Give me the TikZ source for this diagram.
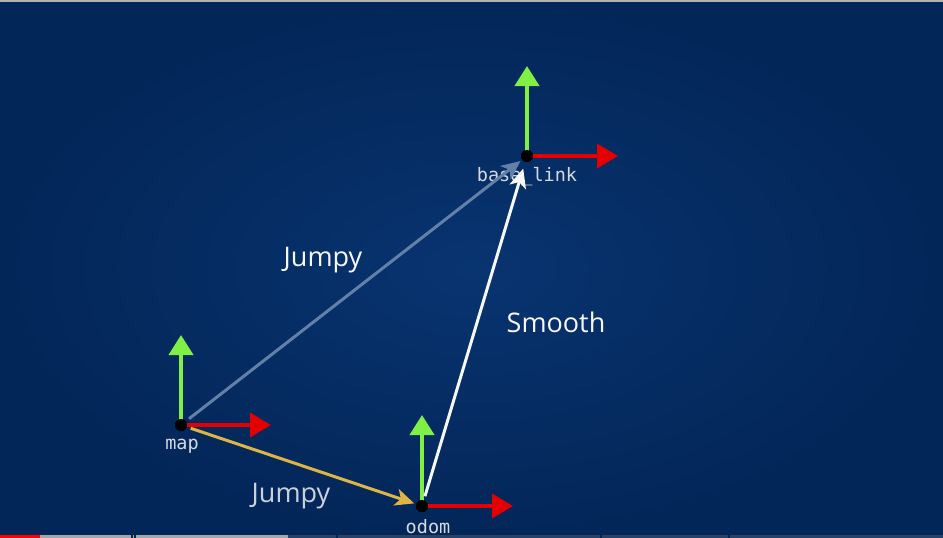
\documentclass[tikz,border=0pt]{standalone}
\usepackage{fontspec}
\setmainfont{Open Sans}
\setmonofont{DejaVu Sans Mono}
\usetikzlibrary{positioning,arrows.meta}

\definecolor{bginner}{RGB}{8,52,112}
\definecolor{bgouter}{RGB}{3,38,88}
\definecolor{axisgreen}{RGB}{128,240,70}
\definecolor{axisred}{RGB}{228,0,0}
\definecolor{jumpyblue}{RGB}{98,128,168}
\definecolor{jumpyyellow}{RGB}{222,180,70}
\definecolor{labelgray}{RGB}{214,218,224}

\begin{document}
\begin{tikzpicture}[
  x=1pt, y=-1pt,
  every node/.style={font=\fontsize{27}{30}\selectfont},
  origin/.style={circle,fill=black,minimum size=12pt,inner sep=0pt},
  framelabel/.style={font=\ttfamily\fontsize{18.5}{20}\selectfont,text=labelgray},
  xaxis/.style={axisred,line width=4pt,-{Triangle[length=21pt,width=24pt]}},
  yaxis/.style={axisgreen,line width=4pt,-{Triangle[length=20pt,width=24pt]}},
  tf/.style={line width=3pt,-{Stealth[length=19pt,width=17pt,inset=5pt]},
             shorten <=4pt,shorten >=2pt}
]
% background
\useasboundingbox (0,0) rectangle (943,538);
\shade[inner color=bginner,outer color=bgouter] (0,0) rectangle (943,538);
\fill[gray!60] (0,0) rectangle (943,1.5);
\fill[bgouter!70!gray] (0,535) rectangle (943,538);
\fill[gray!70] (40,535) rectangle (288,538);
\fill[red] (0,535) rectangle (40,538);
\foreach \sx in {131,134,336,600,728} {
  \fill[bgouter] (\sx,535) rectangle (\sx+2,538);
}

% frames
\coordinate (mapx) at (271,425);
\coordinate (mapy) at (181,335);
\coordinate (odomx) at (513,506);
\coordinate (odomy) at (422,415);
\coordinate (basex) at (618,156);
\coordinate (basey) at (527,66);

\node[origin] (map) at (181,425) {};
\node[origin] (odom) at (422,506) {};
\node[origin] (base) at (527,156) {};

\draw[yaxis] (map.center) -- (mapy);
\draw[xaxis] (map.center) -- (mapx);
\draw[yaxis] (odom.center) -- (odomy);
\draw[xaxis] (odom.center) -- (odomx);
\draw[yaxis] (base.center) -- (basey);
\draw[xaxis] (base.center) -- (basex);

\node[framelabel] (maplabel) at (182,446) {map};
\node[framelabel] (odomlabel) at (428,527) {odom};
\node[framelabel] (baselabel) at (527,177) {base\_link};

% transforms
\draw[tf,jumpyblue] (map) -- (base);
\draw[tf,jumpyyellow] (map) -- (odom);
\draw[tf,white!94!gray,shorten >=7pt] (odom) -- (base);

\node[origin] at (map) {};
\node[origin] at (odom) {};
\node[origin] at (base) {};

\node[text=white!94!gray] (jumpytop) at (323,260) {Jumpy};
\node[text=white!94!gray] (smooth) at (556,322) {Smooth};
\node[text=labelgray!90!jumpyblue] (jumpybottom) at (291,496) {Jumpy};
\end{tikzpicture}
\end{document}
